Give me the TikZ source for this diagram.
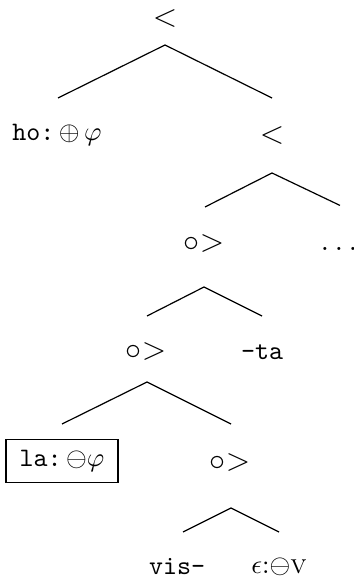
\documentclass[tikz,border=0pt]{standalone}
\usetikzlibrary{calc}
\begin{document}
\begin{tikzpicture}[x=0.375pt,y=-0.375pt,
  lbl/.style={inner sep=0pt},
  op/.style={inner sep=0pt,font=\large},
  boxed/.style={draw,inner sep=0pt,minimum width=42pt,minimum height=16pt,line width=0.5pt},
  br/.style={line width=0.45pt}]
\useasboundingbox (0,0) rectangle (354,582);
\node[op] (root) at (165,19) {$<$};
\node[lbl] (ho) at (57,135) {\texttt{ho:}\,$\oplus\,\varphi$};
\node[op] (r1) at (272,136) {$<$};
\node[op] (n2) at (204,244) {$\circ{>}$};
\node[op,anchor=base] (dots) at (339,251) {$\ldots$};
\node[op] (n3) at (146,352) {$\circ{>}$};
\node[lbl] (ta) at (262,352) {\texttt{-ta}};
\node[boxed] (la) at (62,461) {\texttt{la:}\,$\ominus\varphi$};
\node[op] (n4) at (230,462) {$\circ{>}$};
\node[lbl] (vis) at (177,567) {\texttt{vis-}};
\node[lbl] (eps) at (279,567) {$\epsilon$:$\ominus$\textsc{v}};
\draw[br] ($(ho)+(1,-37)$) -- ($(root)+(0,26)$) -- ($(r1)+(0,-38)$);
\draw[br] ($(n2)+(1,-37)$) -- ($(r1)+(0,37)$) -- ($(dots)+(1,-44)$);
\draw[br] ($(n3)+(1,-36)$) -- ($(n2)+(0,43)$) -- ($(ta)+(0,-36)$);
\draw[br] ($(la)+(0,-37)$) -- ($(n3)+(1,30)$) -- ($(n4)+(1,-38)$);
\draw[br] ($(vis)+(6,-35)$) -- ($(n4)+(1,46)$) -- ($(eps)+(0,-35)$);
\end{tikzpicture}
\end{document}
